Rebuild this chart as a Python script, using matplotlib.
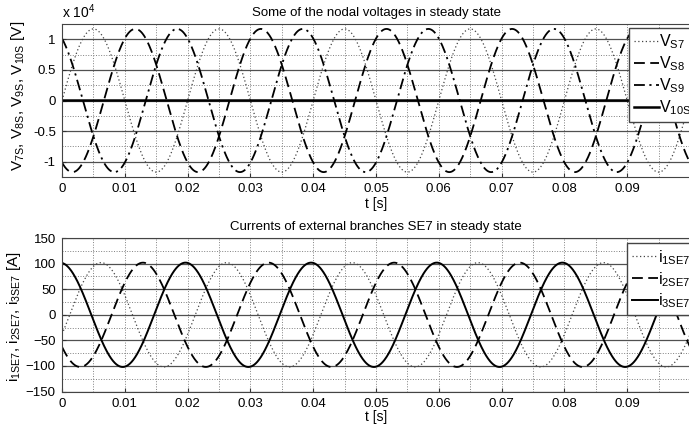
import numpy as np
import matplotlib
matplotlib.use('Agg')
import matplotlib.pyplot as plt
from matplotlib.ticker import MultipleLocator, FuncFormatter

plt.rcParams['font.family'] = ['Liberation Sans', 'DejaVu Sans']
plt.rcParams['mathtext.fontset'] = 'custom'
plt.rcParams['mathtext.rm'] = 'Liberation Sans'
plt.rcParams['mathtext.it'] = 'Liberation Sans'
plt.rcParams['mathtext.default'] = 'regular'

# steady state, 50 Hz
f_hz = 50.0
t_end = 0.1
x_ticks = [0, 0.01, 0.02, 0.03, 0.04, 0.05, 0.06, 0.07, 0.08, 0.09]

# nodal voltages: amplitude [V] and phase [deg] (cosine reference)
v_labels = ['V$_{S7}$', 'V$_{S8}$', 'V$_{S9}$', 'V$_{10S}$']
v_amp = [1.17e4, 1.17e4, 1.17e4, 0.0]
v_phase = [-90, 150, 30, 0]

# branch currents: amplitude [A] and phase [deg]
i_labels = ['i$_{1SE7}$', 'i$_{2SE7}$', 'i$_{3SE7}$']
i_amp = [102, 102, 102]
i_phase = [-112, 128, 6]

styles = [
    dict(color='#444444', lw=0.9, dashes=(1, 2)),
    dict(color='black', lw=1.3, dashes=(6, 3)),
    dict(color='black', lw=1.3, dashes=(6, 2.5, 1.2, 2.5)),
    dict(color='black', lw=1.8, ls='-'),
]

t = np.linspace(0, t_end, 2001)
w = 2 * np.pi * f_hz


def wave(a, ph):
    return a * np.cos(w * t + np.deg2rad(ph))


def style_axes(ax, ymaj, ymin):
    ax.set_xlim(0, t_end)
    ax.set_xticks(x_ticks)
    ax.xaxis.set_minor_locator(MultipleLocator(0.005))
    ax.yaxis.set_major_locator(MultipleLocator(ymaj))
    ax.yaxis.set_minor_locator(MultipleLocator(ymin))
    ax.xaxis.set_major_formatter(FuncFormatter(lambda v, p: f'{v:g}'))
    ax.grid(which='major', axis='y', ls='-', color='#505050', lw=0.9)
    ax.grid(which='minor', axis='y', ls=':', color='#808080', lw=0.7)
    ax.grid(which='both', axis='x', ls=':', color='#808080', lw=0.7)
    ax.set_axisbelow(True)
    ax.tick_params(which='major', direction='in', length=3, labelsize=9.5,
                   color='#333333', pad=4.5)
    ax.tick_params(which='minor', length=0)
    for s in ax.spines.values():
        s.set_color('#444444')


fig = plt.figure(figsize=(6.89, 4.25), dpi=100)
ax1 = fig.add_axes([0.090, 0.5835, 0.9115, 0.360])
ax2 = fig.add_axes([0.090, 0.0788, 0.9115, 0.361])

leg_kw = dict(loc='upper left', fontsize=11.5, frameon=True, fancybox=False,
              framealpha=1, edgecolor='#444444', handlelength=1.6,
              handletextpad=0.0, borderpad=0.3, borderaxespad=0)

for lab, a, ph, st in zip(v_labels, v_amp, v_phase, styles):
    ax1.plot(t, wave(a, ph), label=lab, **st)
style_axes(ax1, 0.5e4, 0.25e4)
ax1.set_ylim(-1.25e4, 1.25e4)
ax1.yaxis.set_major_formatter(FuncFormatter(lambda v, p: f'{v / 1e4:g}'))
ax1.text(0, 1.02, 'x 10$^4$', transform=ax1.transAxes, fontsize=10,
         ha='left', va='bottom')
ax1.set_title('Some of the nodal voltages in steady state', fontsize=9.5, pad=6)
ax1.set_xlabel('t [s]', fontsize=10, labelpad=1)
ax1.set_ylabel('V$_{7S}$, V$_{8S}$, V$_{9S}$, V$_{10S}$ [V]', fontsize=11)
ax1.yaxis.set_label_coords(-0.056, 0.53)
ax1.legend(bbox_to_anchor=(0.903, 0.974), labelspacing=0.2, **leg_kw)

for lab, a, ph, st in zip(i_labels, i_amp, i_phase, [styles[0], styles[1], styles[3]]):
    st = dict(st)
    if st.get('ls') == '-':
        st['lw'] = 1.4
    ax2.plot(t, wave(a, ph), label=lab, **st)
style_axes(ax2, 50, 25)
ax2.set_ylim(-150, 150)
ax2.set_title('Currents of external branches SE7 in steady state', fontsize=9.5, pad=6)
ax2.set_xlabel('t [s]', fontsize=10, labelpad=0)
ax2.set_ylabel('i$_{1SE7}$, i$_{2SE7}$, i$_{3SE7}$ [A]', fontsize=11)
ax2.yaxis.set_label_coords(-0.062, 0.49)
ax2.legend(bbox_to_anchor=(0.900, 0.967), labelspacing=0.2, **leg_kw)

fig.savefig('out.png', dpi=100)
